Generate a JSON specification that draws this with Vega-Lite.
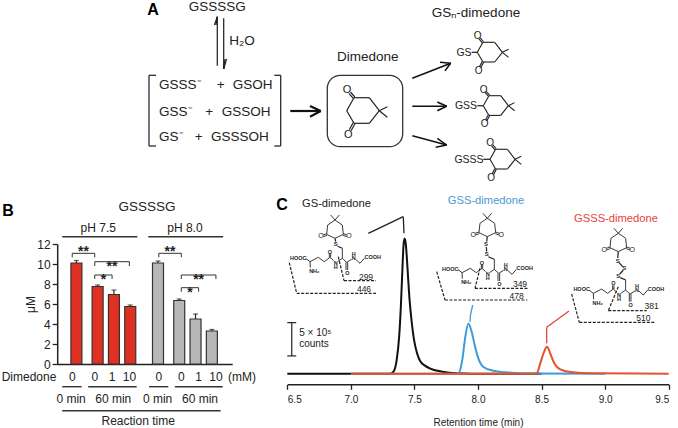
{
"$schema":"https://vega.github.io/schema/vega-lite/v6.json",
"width":678,"height":428,"padding":0,"autosize":{"type":"none"},"background":"white",
"config":{"view":{"stroke":null},"text":{"font":"Liberation Sans","fill":"#222"},"axis":{"labelFont":"Liberation Sans","titleFont":"Liberation Sans","grid":false,"labelColor":"#222","titleColor":"#222","titleFontWeight":"normal","domainColor":"#222","tickColor":"#222"},"rule":{"stroke":"#222","strokeWidth":1}},
"datasets":{
"ringH":[{"x":0,"y":0,"x2":7.3,"y2":-13},{"x":7.3,"y":-13,"x2":22.6,"y2":-13},{"x":22.6,"y":-13,"x2":32.6,"y2":0},{"x":32.6,"y":0,"x2":22.6,"y2":12.6},{"x":22.6,"y":12.6,"x2":7.3,"y2":12.6},{"x":7.3,"y":12.6,"x2":0,"y2":0},{"x":32.6,"y":0,"x2":40.6,"y2":-4},{"x":32.6,"y":0,"x2":40.6,"y2":6.6},{"x":8.1,"y":-13.7,"x2":3.8,"y2":-18.7},{"x":6.5,"y":-12.3,"x2":2.2,"y2":-17.3},{"x":8.2,"y":13.1,"x2":4.4,"y2":20},{"x":6.4,"y":12.1,"x2":2.6,"y2":19}],
"ringHO":[{"x":0.3,"y":-21,"t":"O"},{"x":1.6,"y":23.8,"t":"O"}],
"ringV":[{"x":150,"y":45,"x2":128,"y2":60},{"x":128,"y":60,"x2":125,"y2":88},{"x":125,"y":88,"x2":150,"y2":100},{"x":150,"y":100,"x2":175,"y2":88},{"x":175,"y":88,"x2":172,"y2":60},{"x":172,"y":60,"x2":150,"y2":45},{"x":150,"y":45,"x2":137,"y2":30},{"x":150,"y":45,"x2":163,"y2":30},{"x":125,"y":86,"x2":114,"y2":90},{"x":126,"y":91,"x2":115,"y2":95},{"x":175,"y":86,"x2":186,"y2":90},{"x":174,"y":91,"x2":185,"y2":95}],
"ringVO":[{"x":108,"y":94,"t":"O"},{"x":192,"y":94,"t":"O"}],
"peptide":[{"x":62,"y":160,"x2":75,"y2":170},{"x":75,"y":170,"x2":100,"y2":157},{"x":100,"y":157,"x2":118,"y2":170},{"x":118,"y":170,"x2":135,"y2":157},{"x":133,"y":157,"x2":133,"y2":146},{"x":137,"y":157,"x2":137,"y2":146},{"x":135,"y":157,"x2":146,"y2":167},{"x":159,"y":169,"x2":172,"y2":160},{"x":172,"y":160,"x2":172,"y2":130},{"x":172,"y":160,"x2":185,"y2":172},{"x":183,"y":172,"x2":183,"y2":195},{"x":188,"y":172,"x2":188,"y2":195},{"x":185,"y":172,"x2":200,"y2":163},{"x":212,"y":163,"x2":225,"y2":175},{"x":225,"y":175,"x2":238,"y2":160},{"x":75,"y":170,"x2":76,"y2":188}],
"peptideT":[{"x":40,"y":158,"t":"HOOC"},{"x":88,"y":199,"t":"NH₂"},{"x":135,"y":140,"t":"O"},{"x":152,"y":174,"t":"N"},{"x":152,"y":187,"t":"H"},{"x":187,"y":204,"t":"O"},{"x":206,"y":160,"t":"N"},{"x":206,"y":147,"t":"H"},{"x":263,"y":157,"t":"COOH"}],
"thin":[{"x":217.3,"y":65.7,"x2":217.3,"y2":16.7},{"x":217.3,"y":16.7,"x2":214.5,"y2":25},{"x":217.3,"y":16.7,"x2":216,"y2":25},{"x":223.7,"y":18.3,"x2":223.7,"y2":69},{"x":223.7,"y":69,"x2":226.5,"y2":59},{"x":223.7,"y":69,"x2":225,"y2":59},{"x":149,"y":75.3,"x2":149,"y2":146},{"x":149,"y":75.3,"x2":156,"y2":75.3},{"x":149,"y":146,"x2":156,"y2":146},{"x":280.7,"y":75.3,"x2":280.7,"y2":146},{"x":274.3,"y":75.3,"x2":280.7,"y2":75.3},{"x":274.3,"y":146,"x2":280.7,"y2":146},{"x":471.7,"y":52.3,"x2":477.3,"y2":52.3},{"x":477.3,"y":105.7,"x2":483.3,"y2":105.7},{"x":483.3,"y":159.3,"x2":490,"y2":159.3},
{"x":335,"y":238.3,"x2":335.7,"y2":241.5},{"x":337.7,"y":246.3,"x2":342.3,"y2":248.3},{"x":487.3,"y":236.7,"x2":486.7,"y2":241.5},{"x":486.3,"y":247,"x2":486.7,"y2":251.5},{"x":488.3,"y":256.7,"x2":494.3,"y2":259.3},{"x":618.3,"y":251.7,"x2":617.7,"y2":258},{"x":619,"y":262.7,"x2":622.7,"y2":266.7},{"x":623.3,"y":270.3,"x2":619.7,"y2":274},{"x":620.3,"y":277.7,"x2":625.7,"y2":280}],
"arrows":[{"x":412.3,"y":78.3,"x2":450.7,"y2":63.3},{"x":440,"y":62.3,"x2":450.7,"y2":63.3},{"x":445,"y":70.7,"x2":450.7,"y2":63.3},{"x":412.3,"y":106.3,"x2":446.7,"y2":106.3},{"x":437.3,"y":102,"x2":446.7,"y2":106.3},{"x":437.3,"y":110.7,"x2":446.7,"y2":106.3},{"x":412.3,"y":135.7,"x2":446.7,"y2":145},{"x":437.3,"y":138.3,"x2":446.7,"y2":145},{"x":435.7,"y":147.3,"x2":446.7,"y2":145}],
"mainArrow":[{"x":290.3,"y":111,"x2":320.7,"y2":111},{"x":310,"y":106,"x2":320.7,"y2":111},{"x":310,"y":116.7,"x2":320.7,"y2":111}],
"box":[{"x":327.3,"y":75.3,"x2":402.7,"y2":146.7}],
"dashes":[{"x":338.3,"y":256.7,"x2":344,"y2":280.7},{"x":344,"y":280.7,"x2":376,"y2":280.7},{"x":289.3,"y":262.7,"x2":296.7,"y2":293.3},{"x":296.7,"y":293.3,"x2":376,"y2":293.3},{"x":480,"y":268.3,"x2":475,"y2":288.3},{"x":475,"y":288.3,"x2":528.3,"y2":288.3},{"x":436.7,"y":271.7,"x2":445,"y2":300},{"x":445,"y":300,"x2":527.3,"y2":300},{"x":618.3,"y":286.7,"x2":608.3,"y2":310.7},{"x":608.3,"y":310.7,"x2":646.7,"y2":310.7},{"x":571.7,"y":294,"x2":579.3,"y2":322.3},{"x":579.3,"y":322.3,"x2":655,"y2":322.3}],
"callouts":[{"x":368.3,"y":233.3,"x2":403.3,"y2":216.7,"series":"GS-dimedone"},{"x":403.3,"y":216.7,"x2":404,"y2":233.3,"series":"GS-dimedone"},{"x":472.7,"y":305,"x2":470.5,"y2":315,"series":"GSS-dimedone"},{"x":470.5,"y":315,"x2":470,"y2":322,"series":"GSS-dimedone"},{"x":569,"y":311,"x2":546.7,"y2":327.3,"series":"GSSS-dimedone"},{"x":546.7,"y":327.3,"x2":546.7,"y2":343.3,"series":"GSSS-dimedone"}],
"labelsBig":[{"x":217.3,"y":7,"t":"GSSSSG"},{"x":242,"y":41,"t":"H₂O"},{"x":220.7,"y":85.3,"t":"+"},{"x":252.7,"y":85.3,"t":"GSOH"},{"x":209.3,"y":111.7,"t":"+"},{"x":246,"y":111.7,"t":"GSSOH"},{"x":198.7,"y":137,"t":"+"},{"x":239.8,"y":137,"t":"GSSSOH"},{"x":367.7,"y":56.7,"t":"Dimedone"},{"x":476,"y":13.3,"t":"GSₙ-dimedone"},{"x":147,"y":206.7,"t":"GSSSSG"}],
"labelsLeft":[{"x":159,"y":85.3,"t":"GSSS⁻"},{"x":159,"y":111.7,"t":"GSS⁻"},{"x":159,"y":137,"t":"GS⁻"}],
"labelsMol":[{"x":464,"y":53.3,"t":"GS"},{"x":466,"y":106.3,"t":"GSS"},{"x":469,"y":159.7,"t":"GSSS"}],
"letters":[{"x":153,"y":10,"t":"A"},{"x":8,"y":211,"t":"B"},{"x":282,"y":205,"t":"C"}],
"sulfur":[{"x":335.7,"y":244.3,"t":"S"},{"x":486,"y":244.3,"t":"S"},{"x":486.7,"y":254.3,"t":"S"},{"x":617.7,"y":260.7,"t":"S"},{"x":624.3,"y":268.3,"t":"S"},{"x":618.3,"y":276,"t":"S"}],
"ions":[{"x":366,"y":276.7,"t":"299"},{"x":364,"y":289,"t":"446"},{"x":520,"y":284,"t":"349"},{"x":516.7,"y":296,"t":"478"},{"x":651.7,"y":305.7,"t":"381"},{"x":643.3,"y":318.3,"t":"510"}],
"products":[{"x":336.5,"y":204,"t":"GS-dimedone"},{"x":486,"y":201,"t":"GSS-dimedone"},{"x":616,"y":219.3,"t":"GSSS-dimedone"}],
"bars":[{"slot":0,"ph":"pH 7.5","value":10.1,"err":10.35},{"slot":1.3,"ph":"pH 7.5","value":7.75,"err":7.9},{"slot":2.3,"ph":"pH 7.5","value":6.95,"err":7.4},{"slot":3.3,"ph":"pH 7.5","value":5.75,"err":5.9},{"slot":5,"ph":"pH 8.0","value":10.1,"err":10.3},{"slot":6.3,"ph":"pH 8.0","value":6.35,"err":6.5},{"slot":7.3,"ph":"pH 8.0","value":4.5,"err":5.0},{"slot":8.3,"ph":"pH 8.0","value":3.3,"err":3.45}],
"brackets":[{"slot":0,"level":11.07,"slot2":1.3,"level2":11.07},{"slot":0,"level":11.07,"slot2":0,"level2":10.67},{"slot":1.3,"level":11.07,"slot2":1.3,"level2":10.67},{"slot":1.3,"level":10.23,"slot2":3.3,"level2":10.23},{"slot":1.3,"level":10.23,"slot2":1.3,"level2":9.8},{"slot":3.3,"level":10.23,"slot2":3.3,"level2":9.8},{"slot":1.3,"level":8.9,"slot2":2.3,"level2":8.9},{"slot":1.3,"level":8.9,"slot2":1.3,"level2":8.5},{"slot":2.3,"level":8.9,"slot2":2.3,"level2":8.5},{"slot":5,"level":11.07,"slot2":6.3,"level2":11.07},{"slot":5,"level":11.07,"slot2":5,"level2":10.67},{"slot":6.3,"level":11.07,"slot2":6.3,"level2":10.67},{"slot":6.3,"level":8.9,"slot2":8.3,"level2":8.9},{"slot":6.3,"level":8.9,"slot2":6.3,"level2":8.5},{"slot":8.3,"level":8.9,"slot2":8.3,"level2":8.5},{"slot":6.3,"level":7.63,"slot2":7.3,"level2":7.63},{"slot":6.3,"level":7.63,"slot2":6.3,"level2":7.23},{"slot":7.3,"level":7.63,"slot2":7.3,"level2":7.23}],
"stars":[{"slot":0.65,"level":11.2,"t":"**"},{"slot":2.3,"level":9.7,"t":"**"},{"slot":1.8,"level":8.4,"t":"*"},{"slot":5.65,"level":11.2,"t":"**"},{"slot":7.3,"level":8.4,"t":"**"},{"slot":6.8,"level":7.1,"t":"*"}],
"groupLines":[{"slot":-0.58,"level":12.73,"slot2":3.76,"level2":12.73},{"slot":4.39,"level":12.73,"slot2":8.72,"level2":12.73},{"slot":-0.58,"level":-2.27,"slot2":0.54,"level2":-2.27},{"slot":0.92,"level":-2.27,"slot2":3.72,"level2":-2.27},{"slot":4.43,"level":-2.27,"slot2":5.55,"level2":-2.27},{"slot":5.93,"level":-2.27,"slot2":8.69,"level2":-2.27},{"slot":-0.58,"level":-4.67,"slot2":8.57,"level2":-4.67}],
"barLabels":[{"slot":1.5,"level":13.63,"t":"pH 7.5"},{"slot":6.51,"level":13.63,"t":"pH 8.0"},{"slot":-2.5,"level":-1.33,"t":"Dimedone"},{"slot":0,"level":-1.33,"t":"0"},{"slot":1.3,"level":-1.33,"t":"0"},{"slot":2.3,"level":-1.33,"t":"1"},{"slot":3.3,"level":-1.33,"t":"10"},{"slot":5,"level":-1.33,"t":"0"},{"slot":6.3,"level":-1.33,"t":"0"},{"slot":7.3,"level":-1.33,"t":"1"},{"slot":8.3,"level":-1.33,"t":"10"},{"slot":9.8,"level":-1.33,"t":"(mM)"},{"slot":-0.07,"level":-3.53,"t":"0 min"},{"slot":2.37,"level":-3.53,"t":"60 min"},{"slot":4.93,"level":-3.53,"t":"0 min"},{"slot":7.38,"level":-3.53,"t":"60 min"},{"slot":3.81,"level":-5.67,"t":"Reaction time"}],
"traces":[
{"series":"GS-dimedone","t":6.5,"v":0},{"series":"GS-dimedone","t":7.0,"v":0},{"series":"GS-dimedone","t":7.31,"v":0},{"series":"GS-dimedone","t":7.335,"v":0.3},{"series":"GS-dimedone","t":7.36,"v":2},{"series":"GS-dimedone","t":7.38,"v":5.6},{"series":"GS-dimedone","t":7.393,"v":10},{"series":"GS-dimedone","t":7.405,"v":15.5},{"series":"GS-dimedone","t":7.415,"v":19.5},{"series":"GS-dimedone","t":7.423,"v":20.3},{"series":"GS-dimedone","t":7.432,"v":19.5},{"series":"GS-dimedone","t":7.445,"v":16},{"series":"GS-dimedone","t":7.46,"v":11.5},{"series":"GS-dimedone","t":7.48,"v":7.5},{"series":"GS-dimedone","t":7.495,"v":5.3},{"series":"GS-dimedone","t":7.52,"v":3.1},{"series":"GS-dimedone","t":7.545,"v":1.9},{"series":"GS-dimedone","t":7.58,"v":1.25},{"series":"GS-dimedone","t":7.62,"v":0.8},{"series":"GS-dimedone","t":7.72,"v":0.3},{"series":"GS-dimedone","t":7.83,"v":0.06},{"series":"GS-dimedone","t":7.95,"v":0},{"series":"GS-dimedone","t":8.5,"v":0},
{"series":"GSS-dimedone","t":7.0,"v":0},{"series":"GSS-dimedone","t":7.82,"v":0},{"series":"GSS-dimedone","t":7.85,"v":0.15},{"series":"GSS-dimedone","t":7.876,"v":2.05},{"series":"GSS-dimedone","t":7.9,"v":5.5},{"series":"GSS-dimedone","t":7.925,"v":7.55},{"series":"GSS-dimedone","t":7.95,"v":6.3},{"series":"GSS-dimedone","t":7.977,"v":4.05},{"series":"GSS-dimedone","t":8.0,"v":2.45},{"series":"GSS-dimedone","t":8.04,"v":1.05},{"series":"GSS-dimedone","t":8.12,"v":0.45},{"series":"GSS-dimedone","t":8.22,"v":0.2},{"series":"GSS-dimedone","t":8.42,"v":0.02},{"series":"GSS-dimedone","t":9.0,"v":0},
{"series":"GSSS-dimedone","t":7.0,"v":0},{"series":"GSSS-dimedone","t":8.44,"v":0},{"series":"GSSS-dimedone","t":8.464,"v":0.1},{"series":"GSSS-dimedone","t":8.49,"v":1.55},{"series":"GSSS-dimedone","t":8.515,"v":3.05},{"series":"GSSS-dimedone","t":8.543,"v":4.05},{"series":"GSSS-dimedone","t":8.568,"v":3.05},{"series":"GSSS-dimedone","t":8.594,"v":1.8},{"series":"GSSS-dimedone","t":8.647,"v":0.65},{"series":"GSSS-dimedone","t":8.726,"v":0.25},{"series":"GSSS-dimedone","t":8.9,"v":0.05},{"series":"GSSS-dimedone","t":9.5,"v":0}],
"scaleBar":[{"t":6.535,"v":2.67,"t2":6.535,"v2":7.67},{"t":6.5,"v":2.67,"t2":6.57,"v2":2.67},{"t":6.5,"v":7.67,"t2":6.57,"v2":7.67}],
"scaleText":[{"t":6.594,"v":6.1,"label":"5 × 10⁵"},{"t":6.594,"v":4.4,"label":"counts"}]
},
"resolve":{"scale":{"x":"independent","y":"independent","color":"independent"},"axis":{"x":"independent","y":"independent"}},
"layer":[
{"encoding":{"x":{"field":"x","type":"quantitative","axis":null,"scale":{"domain":[0,678],"range":[0,678],"nice":false,"zero":false}},"y":{"field":"y","type":"quantitative","axis":null,"scale":{"domain":[0,428],"range":[0,428],"nice":false,"zero":false}}},
"layer":[
{"data":{"name":"thin"},"mark":{"type":"rule","strokeWidth":1.25},"encoding":{"x2":{"field":"x2"},"y2":{"field":"y2"}}},
{"data":{"name":"arrows"},"mark":{"type":"rule","strokeWidth":1.5,"stroke":"#111"},"encoding":{"x2":{"field":"x2"},"y2":{"field":"y2"}}},
{"data":{"name":"mainArrow"},"mark":{"type":"rule","strokeWidth":2.2,"stroke":"#111"},"encoding":{"x2":{"field":"x2"},"y2":{"field":"y2"}}},
{"data":{"name":"dashes"},"mark":{"type":"rule","strokeWidth":1.2,"strokeDash":[3,1.5]},"encoding":{"x2":{"field":"x2"},"y2":{"field":"y2"}}},
{"data":{"name":"box"},"mark":{"type":"rect","fill":null,"stroke":"#333","strokeWidth":1.3,"cornerRadius":13},"encoding":{"x2":{"field":"x2"},"y2":{"field":"y2"}}},
{"data":{"name":"labelsBig"},"mark":{"type":"text","fontSize":13.5,"font":"Liberation Sans"},"encoding":{"text":{"field":"t"}}},
{"data":{"name":"labelsLeft"},"mark":{"type":"text","fontSize":13.5,"align":"left"},"encoding":{"text":{"field":"t"}}},
{"data":{"name":"labelsMol"},"mark":{"type":"text","fontSize":10.5},"encoding":{"text":{"field":"t"}}},
{"data":{"name":"letters"},"mark":{"type":"text","fontSize":16,"fontWeight":"bold","fill":"#000"},"encoding":{"text":{"field":"t"}}},
{"data":{"name":"sulfur"},"mark":{"type":"text","fontSize":6,"fontWeight":"bold"},"encoding":{"text":{"field":"t"}}},
{"data":{"name":"ions"},"mark":{"type":"text","fontSize":8.5},"encoding":{"text":{"field":"t"}}}
]},
{"encoding":{"x":{"field":"x","type":"quantitative","axis":null,"scale":{"domain":[0,678],"range":[0,678],"nice":false,"zero":false}},"y":{"field":"y","type":"quantitative","axis":null,"scale":{"domain":[0,428],"range":[0,428],"nice":false,"zero":false}}},
"layer":[
{"data":{"name":"callouts"},"mark":{"type":"rule","strokeWidth":1.3},"encoding":{"x2":{"field":"x2"},"y2":{"field":"y2"},"color":{"field":"series","type":"nominal","legend":null,"scale":{"domain":["GS-dimedone","GSS-dimedone","GSSS-dimedone"],"range":["#222222","#4a9ad4","#e8413c"]}}}},
{"data":{"name":"products"},"mark":{"type":"text","fontSize":11.2},"encoding":{"text":{"field":"t"},"color":{"field":"t","type":"nominal","legend":null,"scale":{"domain":["GS-dimedone","GSS-dimedone","GSSS-dimedone"],"range":["#222222","#4a7dbf","#e0402f"]}}}}
]},
{"encoding":{"x":{"field":"x","type":"quantitative","axis":null,"scale":{"domain":[0,100],"range":[346.7,446.7],"nice":false,"zero":false}},"y":{"field":"y","type":"quantitative","axis":null,"scale":{"domain":[-50,50],"range":[60.7,160.7],"nice":false,"zero":false}}},
"layer":[{"data":{"name":"ringH"},"mark":{"type":"rule","strokeWidth":1.2},"encoding":{"x2":{"field":"x2"},"y2":{"field":"y2"}}},{"data":{"name":"ringHO"},"mark":{"type":"text","fontSize":11},"encoding":{"text":{"field":"t"}}}]},
{"encoding":{"x":{"field":"x","type":"quantitative","axis":null,"scale":{"domain":[0,100],"range":[477.3,554.3],"nice":false,"zero":false}},"y":{"field":"y","type":"quantitative","axis":null,"scale":{"domain":[-50,50],"range":[13.8,90.8],"nice":false,"zero":false}}},
"layer":[{"data":{"name":"ringH"},"mark":{"type":"rule","strokeWidth":1.1},"encoding":{"x2":{"field":"x2"},"y2":{"field":"y2"}}},{"data":{"name":"ringHO"},"mark":{"type":"text","fontSize":10},"encoding":{"text":{"field":"t"}}}]},
{"encoding":{"x":{"field":"x","type":"quantitative","axis":null,"scale":{"domain":[0,100],"range":[483.3,560.3],"nice":false,"zero":false}},"y":{"field":"y","type":"quantitative","axis":null,"scale":{"domain":[-50,50],"range":[67.2,144.2],"nice":false,"zero":false}}},
"layer":[{"data":{"name":"ringH"},"mark":{"type":"rule","strokeWidth":1.1},"encoding":{"x2":{"field":"x2"},"y2":{"field":"y2"}}},{"data":{"name":"ringHO"},"mark":{"type":"text","fontSize":10},"encoding":{"text":{"field":"t"}}}]},
{"encoding":{"x":{"field":"x","type":"quantitative","axis":null,"scale":{"domain":[0,100],"range":[490,567],"nice":false,"zero":false}},"y":{"field":"y","type":"quantitative","axis":null,"scale":{"domain":[-50,50],"range":[120.8,197.8],"nice":false,"zero":false}}},
"layer":[{"data":{"name":"ringH"},"mark":{"type":"rule","strokeWidth":1.1},"encoding":{"x2":{"field":"x2"},"y2":{"field":"y2"}}},{"data":{"name":"ringHO"},"mark":{"type":"text","fontSize":10},"encoding":{"text":{"field":"t"}}}]},
{"encoding":{"x":{"field":"x","type":"quantitative","axis":null,"scale":{"domain":[0,300],"range":[285,385],"nice":false,"zero":false}},"y":{"field":"y","type":"quantitative","axis":null,"scale":{"domain":[0,300],"range":[205,305],"nice":false,"zero":false}}},
"layer":[{"data":{"name":"ringV"},"mark":{"type":"rule","strokeWidth":0.9},"encoding":{"x2":{"field":"x2"},"y2":{"field":"y2"}}},{"data":{"name":"ringVO"},"mark":{"type":"text","fontSize":7},"encoding":{"text":{"field":"t"}}}]},
{"encoding":{"x":{"field":"x","type":"quantitative","axis":null,"scale":{"domain":[0,300],"range":[437.3,537.3],"nice":false,"zero":false}},"y":{"field":"y","type":"quantitative","axis":null,"scale":{"domain":[0,300],"range":[203.3,303.3],"nice":false,"zero":false}}},
"layer":[{"data":{"name":"ringV"},"mark":{"type":"rule","strokeWidth":0.9},"encoding":{"x2":{"field":"x2"},"y2":{"field":"y2"}}},{"data":{"name":"ringVO"},"mark":{"type":"text","fontSize":7},"encoding":{"text":{"field":"t"}}}]},
{"encoding":{"x":{"field":"x","type":"quantitative","axis":null,"scale":{"domain":[0,300],"range":[568.3,668.3],"nice":false,"zero":false}},"y":{"field":"y","type":"quantitative","axis":null,"scale":{"domain":[0,300],"range":[218.3,318.3],"nice":false,"zero":false}}},
"layer":[{"data":{"name":"ringV"},"mark":{"type":"rule","strokeWidth":0.9},"encoding":{"x2":{"field":"x2"},"y2":{"field":"y2"}}},{"data":{"name":"ringVO"},"mark":{"type":"text","fontSize":7},"encoding":{"text":{"field":"t"}}}]},
{"encoding":{"x":{"field":"x","type":"quantitative","axis":null,"scale":{"domain":[0,300],"range":[285,385],"nice":false,"zero":false}},"y":{"field":"y","type":"quantitative","axis":null,"scale":{"domain":[0,300],"range":[205,305],"nice":false,"zero":false}}},
"layer":[{"data":{"name":"peptide"},"mark":{"type":"rule","strokeWidth":0.9},"encoding":{"x2":{"field":"x2"},"y2":{"field":"y2"}}},{"data":{"name":"peptideT"},"mark":{"type":"text","fontSize":5.5,"fontWeight":"bold"},"encoding":{"text":{"field":"t"}}}]},
{"encoding":{"x":{"field":"x","type":"quantitative","axis":null,"scale":{"domain":[0,300],"range":[437,537],"nice":false,"zero":false}},"y":{"field":"y","type":"quantitative","axis":null,"scale":{"domain":[0,300],"range":[216,316],"nice":false,"zero":false}}},
"layer":[{"data":{"name":"peptide"},"mark":{"type":"rule","strokeWidth":0.9},"encoding":{"x2":{"field":"x2"},"y2":{"field":"y2"}}},{"data":{"name":"peptideT"},"mark":{"type":"text","fontSize":5.5,"fontWeight":"bold"},"encoding":{"text":{"field":"t"}}}]},
{"encoding":{"x":{"field":"x","type":"quantitative","axis":null,"scale":{"domain":[0,300],"range":[568.3,668.3],"nice":false,"zero":false}},"y":{"field":"y","type":"quantitative","axis":null,"scale":{"domain":[0,300],"range":[236.7,336.7],"nice":false,"zero":false}}},
"layer":[{"data":{"name":"peptide"},"mark":{"type":"rule","strokeWidth":0.9},"encoding":{"x2":{"field":"x2"},"y2":{"field":"y2"}}},{"data":{"name":"peptideT"},"mark":{"type":"text","fontSize":5.5,"fontWeight":"bold"},"encoding":{"text":{"field":"t"}}}]},
{"encoding":{"x":{"field":"slot","type":"quantitative","axis":null,"scale":{"domain":[-0.87,9.24],"range":[57.2,232.2],"nice":false,"zero":false}},"y":{"field":"level","type":"quantitative","axis":null,"scale":{"domain":[0,12],"range":[364,244],"nice":false,"zero":false}}},
"layer":[
{"data":{"name":"brackets"},"mark":{"type":"rule","strokeWidth":1,"stroke":"#333"},"encoding":{"x2":{"field":"slot2"},"y2":{"field":"level2"}}},
{"data":{"name":"groupLines"},"mark":{"type":"rule","strokeWidth":1.4,"stroke":"#333"},"encoding":{"x2":{"field":"slot2"},"y2":{"field":"level2"}}},
{"data":{"name":"stars"},"mark":{"type":"text","fontSize":14,"fontWeight":"bold"},"encoding":{"text":{"field":"t"}}},
{"data":{"name":"barLabels"},"mark":{"type":"text","fontSize":12},"encoding":{"text":{"field":"t"}}}
]},
{"data":{"name":"bars"},
"encoding":{"x":{"field":"slot","type":"quantitative","axis":{"orient":"bottom","offset":-64,"title":null,"labels":false,"ticks":false,"domainWidth":1.5},"scale":{"domain":[-0.87,9.24],"range":[57.2,232.2],"nice":false,"zero":false}}},
"layer":[
{"mark":{"type":"rule","strokeWidth":1.2,"stroke":"#222"},"encoding":{"y":{"field":"value","type":"quantitative","axis":{"orient":"left","offset":-57.2,"title":"μM","values":[0,2,4,6,8,10,12],"labelFontSize":12,"tickSize":5,"tickWidth":1.3,"domainWidth":1.5,"labelPadding":2,"titleFontSize":12,"titlePadding":-1},"scale":{"domain":[0,12],"range":[364,244],"nice":false,"zero":false}},"y2":{"field":"err"}}},
{"mark":{"type":"tick","orient":"horizontal","size":5,"thickness":1.2,"color":"#222"},"encoding":{"y":{"field":"err","type":"quantitative","scale":{"domain":[0,12],"range":[364,244],"nice":false,"zero":false}}}},
{"mark":{"type":"bar","orient":"vertical","width":11,"stroke":"#333","strokeWidth":1.2},"encoding":{"y":{"field":"value","type":"quantitative","scale":{"domain":[0,12],"range":[364,244],"nice":false,"zero":false}},"y2":{"datum":0},"color":{"field":"ph","type":"nominal","legend":null,"scale":{"domain":["pH 7.5","pH 8.0"],"range":["#e03022","#b7b7b7"]}}}}
]},
{"encoding":{"x":{"field":"t","type":"quantitative","axis":{"orient":"bottom","offset":-43.7,"title":"Retention time (min)","values":[6.5,7,7.5,8,8.5,9,9.5],"format":".1f","labelFontSize":10,"titleFontSize":10,"tickSize":5,"tickWidth":1.3,"domainWidth":1.5,"labelPadding":5,"titlePadding":13},"scale":{"domain":[6.5,9.5],"range":[287.3,668.7],"nice":false,"zero":false}},"y":{"field":"v","type":"quantitative","axis":null,"scale":{"domain":[0,20],"range":[373.7,240.5],"nice":false,"zero":false}}},
"layer":[
{"data":{"name":"traces"},"mark":{"type":"line","interpolate":"monotone","strokeWidth":2},"encoding":{"color":{"field":"series","type":"nominal","legend":null,"scale":{"domain":["GS-dimedone","GSS-dimedone","GSSS-dimedone"],"range":["#111111","#3f9ad6","#e4532d"]}}}},
{"data":{"name":"scaleBar"},"mark":{"type":"rule","strokeWidth":1.2,"stroke":"#222"},"encoding":{"x2":{"field":"t2"},"y2":{"field":"v2"}}},
{"data":{"name":"scaleText"},"mark":{"type":"text","fontSize":10,"align":"left"},"encoding":{"text":{"field":"label"}}}
]}
]
}
